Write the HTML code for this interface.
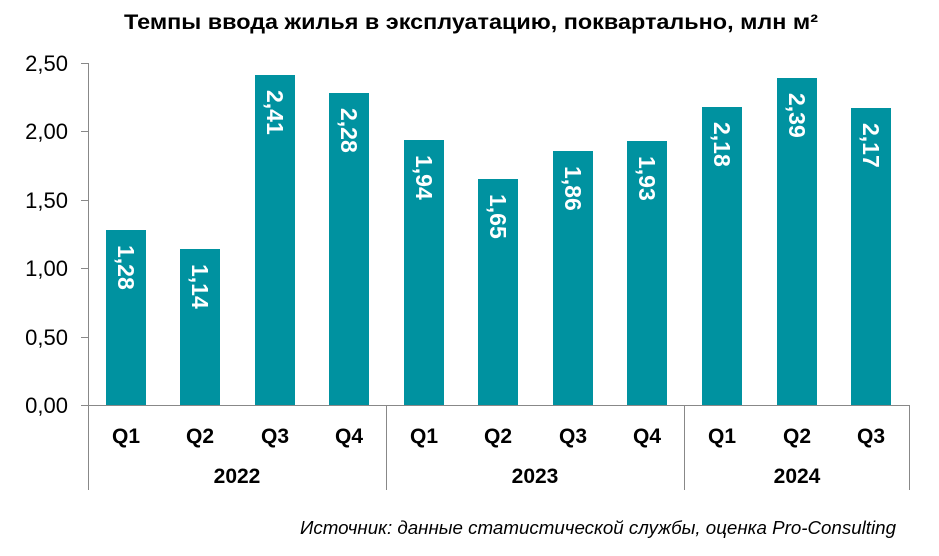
<!DOCTYPE html>
<html><head><meta charset="utf-8"><style>body{margin:0;background:#fff}svg{display:block}</style></head><body>
<svg width="939" height="556" xmlns="http://www.w3.org/2000/svg" font-family="Liberation Sans, Arial, sans-serif">
<text x="471" y="29" text-anchor="middle" font-size="21" font-weight="bold" fill="#000" textLength="694" lengthAdjust="spacingAndGlyphs">Темпы ввода жилья в эксплуатацию, поквартально, млн м²</text>
<g stroke="#888" stroke-width="1">
<line x1="88.5" y1="63" x2="88.5" y2="490"/>
<line x1="81" y1="405.5" x2="910" y2="405.5"/>
<line x1="81" y1="337.5" x2="88" y2="337.5"/>
<line x1="81" y1="268.5" x2="88" y2="268.5"/>
<line x1="81" y1="200.5" x2="88" y2="200.5"/>
<line x1="81" y1="131.5" x2="88" y2="131.5"/>
<line x1="81" y1="63.5" x2="88" y2="63.5"/>
<line x1="386.5" y1="405" x2="386.5" y2="490"/>
<line x1="684.5" y1="405" x2="684.5" y2="490"/>
<line x1="909.5" y1="405" x2="909.5" y2="490"/>
</g>
<g font-size="22" text-anchor="end" fill="#000">
<text x="68" y="413">0,00</text><text x="68" y="345">0,50</text><text x="68" y="276">1,00</text>
<text x="68" y="208">1,50</text><text x="68" y="139">2,00</text><text x="68" y="71">2,50</text>
</g>
<g fill="#0092a0">
<rect x="106" y="230" width="40" height="175"/>
<rect x="180" y="249" width="40" height="156"/>
<rect x="255" y="75" width="40" height="330"/>
<rect x="329" y="93" width="40" height="312"/>
<rect x="404" y="140" width="40" height="265"/>
<rect x="478" y="179" width="40" height="226"/>
<rect x="553" y="151" width="40" height="254"/>
<rect x="627" y="141" width="40" height="264"/>
<rect x="702" y="107" width="40" height="298"/>
<rect x="777" y="78" width="40" height="327"/>
<rect x="851" y="108" width="40" height="297"/>
</g>
<g font-size="23" font-weight="bold" fill="#fff">
<text transform="translate(118,245) rotate(90)">1,28</text>
<text transform="translate(192,264) rotate(90)">1,14</text>
<text transform="translate(267,90) rotate(90)">2,41</text>
<text transform="translate(341,108) rotate(90)">2,28</text>
<text transform="translate(416,155) rotate(90)">1,94</text>
<text transform="translate(490,194) rotate(90)">1,65</text>
<text transform="translate(565,166) rotate(90)">1,86</text>
<text transform="translate(639,156) rotate(90)">1,93</text>
<text transform="translate(714,122) rotate(90)">2,18</text>
<text transform="translate(789,93) rotate(90)">2,39</text>
<text transform="translate(863,123) rotate(90)">2,17</text>
</g>
<g font-size="21" font-weight="bold" text-anchor="middle" fill="#000">
<text x="126" y="443">Q1</text><text x="200" y="443">Q2</text><text x="275" y="443">Q3</text><text x="349" y="443">Q4</text>
<text x="424" y="443">Q1</text><text x="498" y="443">Q2</text><text x="573" y="443">Q3</text><text x="647" y="443">Q4</text>
<text x="722" y="443">Q1</text><text x="797" y="443">Q2</text><text x="871" y="443">Q3</text>
<text x="237" y="483">2022</text><text x="535" y="483">2023</text><text x="797" y="483">2024</text>
</g>
<text x="896" y="534" text-anchor="end" font-size="18" font-style="italic" fill="#000" textLength="596" lengthAdjust="spacingAndGlyphs">Источник: данные статистической службы, оценка Pro-Consulting</text>
</svg>
</body></html>
